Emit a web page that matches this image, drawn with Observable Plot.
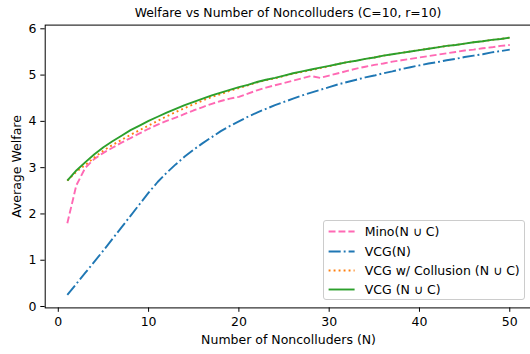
<!DOCTYPE html>
<html>
<head>
<meta charset="utf-8">
<script src="https://cdn.jsdelivr.net/npm/d3@7"></script>
<script src="https://cdn.jsdelivr.net/npm/@observablehq/plot@0.6"></script>
<style>
  html, body { margin: 0; padding: 0; background: #fff; overflow: hidden; }
  #wrap { position: relative; width: 530px; height: 354px; font-family: "DejaVu Sans", sans-serif; color: #000; }
  #title { position: absolute; left: 44.7px; width: 486.7px; top: 0; height: 25px; line-height: 25px;
           text-align: center; font-size: 12.4px; z-index: 2; }
  #chart { position: absolute; left: 0; top: 0; }
  #chart svg { overflow: hidden; }
  #legend { position: absolute; left: 322.7px; top: 220px; width: 200.3px; height: 78px;
            border: 1px solid #cccccc; border-radius: 3px; background: rgba(255,255,255,0.8); }
  .row { position: absolute; left: 0; height: 19px; width: 100%; }
  .row svg { position: absolute; left: 4px; top: 0; }
  .row span { position: absolute; left: 41px; top: 0; line-height: 19px; font-size: 12.5px; white-space: nowrap; }
</style>
</head>
<body>
<div id="wrap">
  <div id="chart"></div>
  <div id="title">Welfare vs Number of Noncolluders (C=10, r=10)</div>
  <div id="legend"></div>
</div>
<script>
// Number of noncolluders on the x axis
const noncolluders = [1,2,3,4,5,6,7,8,9,10,11,12,13,14,15,16,17,18,19,20,21,22,23,24,25,
  26,27,28,29,30,31,32,33,34,35,36,37,38,39,40,41,42,43,44,45,46,47,48,49,50];

// Average welfare per mechanism
const minoAll = [1.80,2.62,3.00,3.19,3.32,3.43,3.54,3.64,3.74,3.84,3.93,4.01,4.08,4.16,4.24,
  4.31,4.38,4.44,4.49,4.53,4.60,4.67,4.73,4.78,4.83,4.88,4.93,4.98,4.94,4.99,5.04,5.09,5.14,
  5.18,5.22,5.25,5.29,5.32,5.35,5.38,5.41,5.44,5.47,5.50,5.53,5.55,5.58,5.60,5.63,5.65];

const vcgN = [0.25,0.49,0.73,0.97,1.21,1.46,1.71,1.96,2.21,2.46,2.69,2.89,3.07,3.24,3.39,
  3.53,3.66,3.79,3.90,4.00,4.10,4.19,4.27,4.35,4.42,4.49,4.56,4.62,4.68,4.74,4.80,4.85,4.90,
  4.95,4.99,5.04,5.08,5.13,5.17,5.21,5.25,5.28,5.32,5.35,5.39,5.42,5.45,5.49,5.52,5.55];

const vcgCollusion = [2.72,2.91,3.06,3.22,3.37,3.49,3.60,3.71,3.81,3.91,4.01,4.11,4.20,4.29,
  4.37,4.45,4.53,4.59,4.66,4.72,4.78,4.84,4.89,4.93,4.98,5.03,5.07,5.11,5.15,5.19,5.24,5.28,
  5.31,5.35,5.38,5.42,5.45,5.48,5.51,5.54,5.57,5.60,5.63,5.65,5.68,5.71,5.73,5.76,5.78,5.81];

const vcgAll = [2.72,2.94,3.12,3.29,3.44,3.57,3.69,3.81,3.91,4.01,4.10,4.19,4.27,4.35,4.42,
  4.49,4.56,4.62,4.68,4.74,4.79,4.85,4.90,4.94,4.99,5.04,5.08,5.12,5.16,5.20,5.24,5.28,5.31,
  5.35,5.38,5.42,5.45,5.48,5.51,5.54,5.57,5.60,5.63,5.65,5.68,5.71,5.73,5.76,5.78,5.81];

const xTicks = [0, 10, 20, 30, 40, 50];
const yTicks = [0, 1, 2, 3, 4, 5, 6];
const xLabel = "Number of Noncolluders (N)";
const yLabel = "Average Welfare";

// Series styling, in drawing order (last on top)
const series = [
  {name: "Mino(N \u222A C)", values: minoAll, color: "#ff69b4", dash: "6.9,3"},
  {name: "VCG(N)", values: vcgN, color: "#1f77b4", dash: "12.1,3,1.9,3"},
  {name: "VCG w/ Collusion (N \u222A C)", values: vcgCollusion, color: "#ff7f0e", dash: "1.9,3.1"},
  {name: "VCG (N \u222A C)", values: vcgAll, color: "#2ca02c", dash: null}
];

const rows = series.flatMap(s => noncolluders.map((n, i) => ({n, w: s.values[i], name: s.name})));

const lineMarks = series.map(s => Plot.line(rows.filter(d => d.name === s.name), {
  x: "n", y: "w", stroke: s.color, strokeWidth: 1.9,
  strokeDasharray: s.dash ?? undefined, strokeLinecap: "butt", strokeLinejoin: "round"
}));

const chart = Plot.plot({
  width: 530,
  height: 354,
  marginLeft: 44.7,
  marginRight: -1.4,
  marginTop: 24.6,
  marginBottom: 46.6,
  style: {fontFamily: "DejaVu Sans, sans-serif", fontSize: "12.5px", color: "#000", background: "#fff"},
  x: {domain: [-1.45, 52.45], ticks: xTicks, tickSize: 4.4, tickPadding: 4.4,
      label: null, tickFormat: d => String(d)},
  y: {domain: [-0.03, 6.08], ticks: yTicks, tickSize: 4.4, tickPadding: 4.4,
      label: null, tickFormat: d => String(d)},
  marks: [
    Plot.frame({stroke: "#000", strokeWidth: 1}),
    ...lineMarks,
    // axis titles
    Plot.text([xLabel], {text: d => d, frameAnchor: "bottom", dy: 32.3, lineAnchor: "middle",
      textAnchor: "middle", fontSize: 12.5, fill: "#000"}),
    Plot.text([yLabel], {text: d => d, frameAnchor: "left", dx: -28.4, rotate: -90, lineAnchor: "middle",
      textAnchor: "middle", fontSize: 12.5, fill: "#000"})
  ]
});
document.getElementById("chart").appendChild(chart);

// Legend inside the axes, lower right
const legend = document.getElementById("legend");
series.forEach((s, i) => {
  const row = document.createElement("div");
  row.className = "row";
  row.style.top = (1.2 + i * 19.3) + "px";
  const ns = "http://www.w3.org/2000/svg";
  const sw = document.createElementNS(ns, "svg");
  sw.setAttribute("width", 28); sw.setAttribute("height", 19);
  const ln = document.createElementNS(ns, "line");
  ln.setAttribute("x1", 0.6); ln.setAttribute("x2", 26.6);
  ln.setAttribute("y1", 9.5); ln.setAttribute("y2", 9.5);
  ln.setAttribute("stroke", s.color); ln.setAttribute("stroke-width", 1.9);
  if (s.dash) ln.setAttribute("stroke-dasharray", s.dash);
  sw.appendChild(ln);
  const label = document.createElement("span");
  label.textContent = s.name;
  row.appendChild(sw); row.appendChild(label);
  legend.appendChild(row);
});
</script>
</body>
</html>
